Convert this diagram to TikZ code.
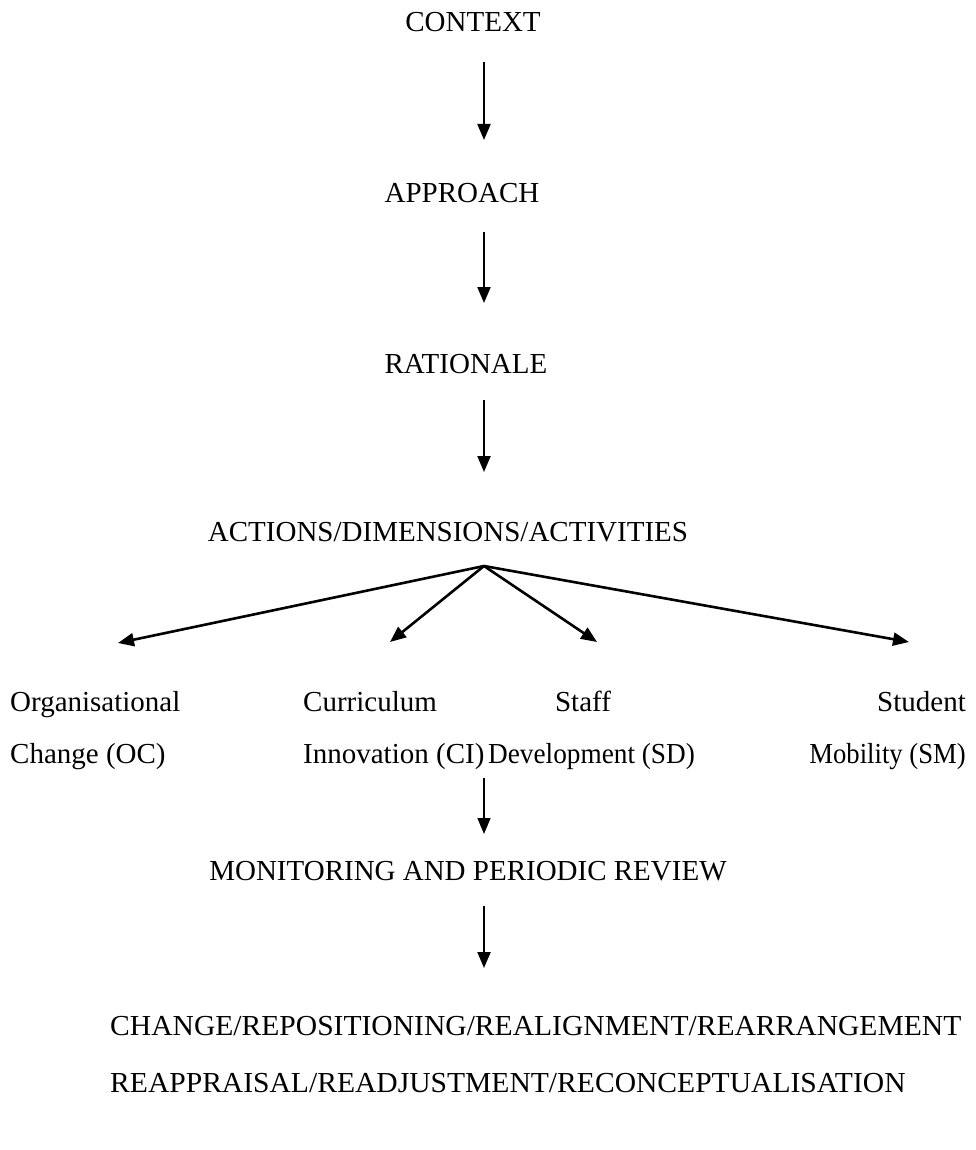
\documentclass[tikz,border=0pt]{standalone}
\usepackage{fontspec}
\setmainfont{Liberation Serif}
\usetikzlibrary{arrows.meta}
\begin{document}
\begin{tikzpicture}[x=1pt,y=-1pt,
  lbl/.style={inner sep=0pt,font=\fontsize{29}{34}\selectfont},
  arr/.style={line width=2.2pt,-{Triangle[length=16pt,width=13pt]}}]
\useasboundingbox (0,0) rectangle (976,1150);
\node[lbl,anchor=base] (ctx) at (473,32) {CONTEXT};
\node[lbl,anchor=base] (app) at (462,203) {APPROACH};
\node[lbl,anchor=base] (rat) at (466,373) {RATIONALE};
\node[lbl,anchor=base] (act) at (448,541) {ACTIONS/DIMENSIONS/ACTIVITIES};
\node[lbl,anchor=base west] (oc1) at (10,711) {Organisational};
\node[lbl,anchor=base west] (oc2) at (10,763) {Change (OC)};
\node[lbl,anchor=base west] (ci1) at (303,711) {Curriculum};
\node[lbl,anchor=base west] (ci2) at (303,763) {Innovation (CI)};
\node[lbl,anchor=base] (sd1) at (583,711) {Staff};
\node[lbl,anchor=base west] (sd2) at (488,763) {\scalebox{0.94}[1]{Development (SD)}};
\node[lbl,anchor=base east] (sm1) at (966,711) {Student};
\node[lbl,anchor=base east] (sm2) at (966,763) {\scalebox{0.92}[1]{Mobility (SM)}};
\node[lbl,anchor=base] (mon) at (468,880) {MONITORING AND PERIODIC REVIEW};
\node[lbl,anchor=base west] (chg1) at (110,1035) {\scalebox{1.02}[1]{CHANGE/REPOSITIONING/REALIGNMENT/REARRANGEMENT}};
\node[lbl,anchor=base west] (chg2) at (110,1092) {\scalebox{1.02}[1]{REAPPRAISAL/READJUSTMENT/RECONCEPTUALISATION}};
\coordinate (a1s) at (484,62);  \coordinate (a1e) at (484,140);
\coordinate (a2s) at (484,232); \coordinate (a2e) at (484,303);
\coordinate (a3s) at (484,400); \coordinate (a3e) at (484,472);
\coordinate (br) at (484,566);
\coordinate (toc) at (118,643);
\coordinate (tci) at (390,642);
\coordinate (tsd) at (597,642);
\coordinate (tsm) at (909,642);
\coordinate (a4s) at (484,778); \coordinate (a4e) at (484,834);
\coordinate (a5s) at (484,906); \coordinate (a5e) at (484,968);
\draw[arr] (a1s) -- (a1e);
\draw[arr] (a2s) -- (a2e);
\draw[arr] (a3s) -- (a3e);
\draw[arr,line width=2.6pt] (br) -- (toc);
\draw[arr,line width=2.6pt] (br) -- (tci);
\draw[arr,line width=2.6pt] (br) -- (tsd);
\draw[arr,line width=2.6pt] (br) -- (tsm);
\draw[arr,line width=1.4pt] (a4s) -- (a4e);
\draw[arr] (a5s) -- (a5e);
\end{tikzpicture}
\end{document}
